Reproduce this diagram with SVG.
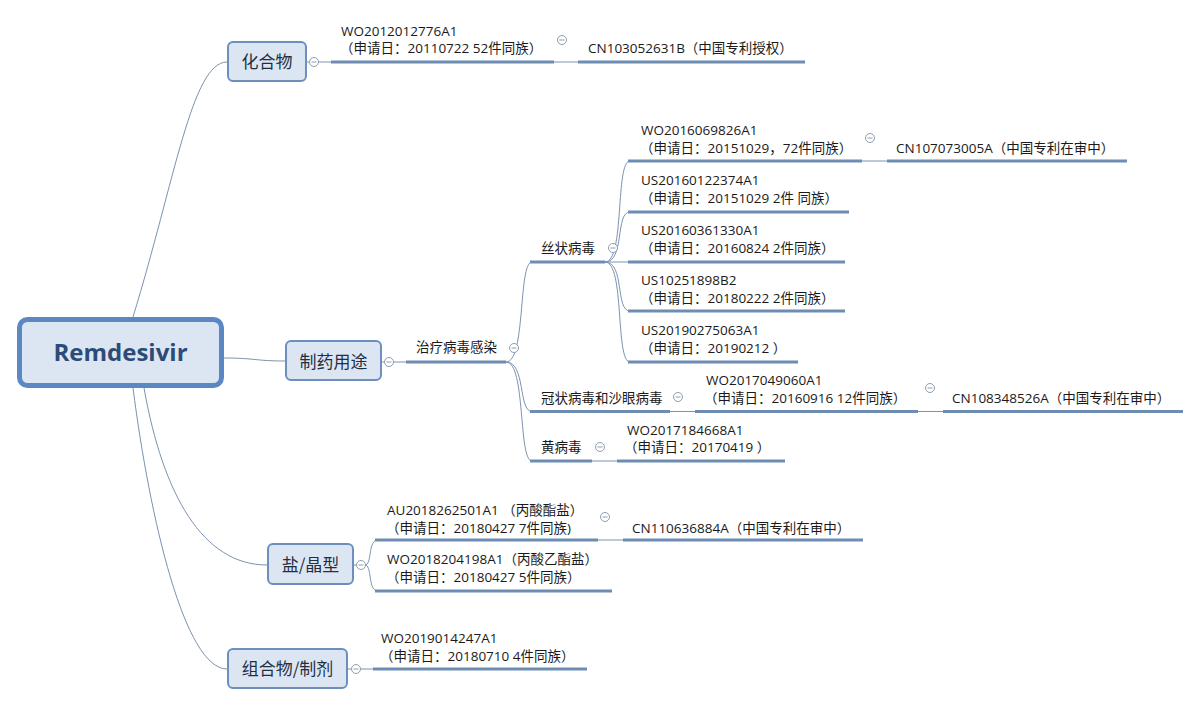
<svg xmlns="http://www.w3.org/2000/svg" width="1201" height="706" viewBox="0 0 1201 706">
<style>
.bg{fill:#ffffff}
.box{fill:#dce6f2;stroke:#6c8fbd;stroke-width:2}
.root{fill:#dce6f2;stroke:#5b87c2;stroke-width:5}
.btxt{font-family:"Noto Sans CJK SC","Noto Sans",sans-serif;font-size:17px;fill:#1f2f44;text-anchor:middle}
.rtxt{font-family:"Open Sans","Liberation Sans",sans-serif;font-weight:bold;font-size:24px;fill:#2d4b77;text-anchor:middle}
.t{font-family:"Open Sans","Noto Sans CJK SC",sans-serif;font-size:13.5px;fill:#1a1a1a}
.ul{stroke:#6f8db3;stroke-width:3;fill:none}
.cn{stroke:#7b93b0;stroke-width:1;fill:none}
.tg circle{fill:#ffffff;stroke:#8e9db0;stroke-width:1}
.tg path{stroke:#8e9db0;stroke-width:1}
</style>
<defs>
<g id="tog" class="tg"><circle cx="0" cy="0" r="4.5"/><path d="M-2.5,0H2.5"/></g>
</defs>
<rect class="bg" x="0" y="0" width="1201" height="706"/>

<g id="connectors">
<path class="cn" d="M133,317 C175,180 192,62 227,62"/>
<path class="cn" d="M224,358 C255,358 255,361 285,361"/>
<path class="cn" d="M144,388 C163,495 203,565 267,565"/>
<path class="cn" d="M133,388 C150,520 185,669 227,669"/>
<path class="cn" d="M307,62 H331"/>
<path class="cn" d="M554,62 H578"/>
<path class="cn" d="M382,362 H406"/>
<path class="cn" d="M506,362 C526,362 518,262 532,262"/>
<path class="cn" d="M506,362 C526,362 518,411.5 532,411.5"/>
<path class="cn" d="M506,362 C526,362 518,461 532,461"/>
<path class="cn" d="M605,262 C625,262 615,161 630,161"/>
<path class="cn" d="M605,262 C625,262 615,212 630,212"/>
<path class="cn" d="M605,262 H630"/>
<path class="cn" d="M605,262 C625,262 615,311 630,311"/>
<path class="cn" d="M605,262 C625,262 615,362 630,362"/>
<path class="cn" d="M862,161 H887"/>
<path class="cn" d="M670,411.5 H695"/>
<path class="cn" d="M918,411.5 H943"/>
<path class="cn" d="M592,461 H617"/>
<path class="cn" d="M354,565 H366"/>
<path class="cn" d="M366,565 C372,562 368,540 378,540"/>
<path class="cn" d="M366,565 C372,568 368,591 378,591"/>
<path class="cn" d="M598,540 H623"/>
<path class="cn" d="M348,669 H373"/>
</g>

<g id="root">
<rect class="root" x="19.5" y="319.5" width="202" height="66" rx="8"/>
<text class="rtxt" x="120.5" y="360.5">Remdesivir</text>
</g>

<g id="n-compound">
<rect class="box" x="228" y="42" width="78" height="39" rx="5"/>
<text class="btxt" x="267" y="67.5">化合物</text>
<use href="#tog" x="314" y="62"/>
</g>
<g id="n-wo2012012776">
<path class="ul" d="M331,62 H554"/>
<text class="t" x="341" y="35.5">WO2012012776A1</text>
<text class="t" x="340" y="52.5">（申请日：20110722 52件同族）</text>
<use href="#tog" x="562" y="40"/>
</g>
<g id="n-cn103052631b">
<path class="ul" d="M578,62 H805"/>
<text class="t" x="588" y="52.5">CN103052631B（中国专利授权）</text>
</g>

<g id="n-pharma">
<rect class="box" x="286" y="341" width="95" height="39" rx="5"/>
<text class="btxt" x="333.5" y="367.5">制药用途</text>
<use href="#tog" x="389" y="362"/>
</g>
<g id="n-antiviral">
<path class="ul" d="M406,362 H506"/>
<text class="t" x="416" y="351.5">治疗病毒感染</text>
<use href="#tog" x="514" y="348"/>
</g>
<g id="n-filovirus">
<path class="ul" d="M530,262 H605"/>
<text class="t" x="541" y="252.5">丝状病毒</text>
<use href="#tog" x="613" y="248"/>
</g>
<g id="n-wo2016069826">
<path class="ul" d="M628,161 H862"/>
<text class="t" x="641" y="134.5">WO2016069826A1</text>
<text class="t" x="640" y="152.5">（申请日：20151029，72件同族）</text>
<use href="#tog" x="870" y="138"/>
</g>
<g id="n-cn107073005a">
<path class="ul" d="M887,161 H1127"/>
<text class="t" x="896" y="152.5">CN107073005A（中国专利在审中）</text>
</g>
<g id="n-us20160122374">
<path class="ul" d="M628,212 H849"/>
<text class="t" x="641" y="184.5">US20160122374A1</text>
<text class="t" x="640" y="202.5">（申请日：20151029 2件 同族）</text>
</g>
<g id="n-us20160361330">
<path class="ul" d="M628,262 H845"/>
<text class="t" x="641" y="234.5">US20160361330A1</text>
<text class="t" x="640" y="252.5">（申请日：20160824 2件同族）</text>
</g>
<g id="n-us10251898">
<path class="ul" d="M628,311 H845"/>
<text class="t" x="641" y="284.5">US10251898B2</text>
<text class="t" x="640" y="302.5">（申请日：20180222 2件同族）</text>
</g>
<g id="n-us20190275063">
<path class="ul" d="M628,362 H798"/>
<text class="t" x="641" y="334.5">US20190275063A1</text>
<text class="t" x="640" y="352.5">（申请日：20190212 ）</text>
</g>
<g id="n-coronavirus">
<path class="ul" d="M530,411.5 H670"/>
<text class="t" x="541" y="402.5">冠状病毒和沙眼病毒</text>
<use href="#tog" x="678" y="397"/>
</g>
<g id="n-wo2017049060">
<path class="ul" d="M695,411.5 H918"/>
<text class="t" x="706" y="384.5">WO2017049060A1</text>
<text class="t" x="704" y="402.5">（申请日：20160916 12件同族）</text>
<use href="#tog" x="930" y="388"/>
</g>
<g id="n-cn108348526a">
<path class="ul" d="M943,411.5 H1183"/>
<text class="t" x="952" y="402.5">CN108348526A（中国专利在审中）</text>
</g>
<g id="n-flavivirus">
<path class="ul" d="M530,461 H592"/>
<text class="t" x="541" y="451.5">黄病毒</text>
<use href="#tog" x="600" y="447"/>
</g>
<g id="n-wo2017184668">
<path class="ul" d="M617,461 H785"/>
<text class="t" x="627" y="434.5">WO2017184668A1</text>
<text class="t" x="624" y="451.5">（申请日：20170419 ）</text>
</g>

<g id="n-salt">
<rect class="box" x="268" y="544" width="85" height="40" rx="5"/>
<text class="btxt" x="310.5" y="570.5">盐/晶型</text>
<use href="#tog" x="361" y="565"/>
</g>
<g id="n-au2018262501">
<path class="ul" d="M375,540 H598"/>
<text class="t" x="387" y="514.5">AU2018262501A1 （丙酸酯盐）</text>
<text class="t" x="386" y="532.5">（申请日：20180427 7件同族)</text>
<use href="#tog" x="605" y="517"/>
</g>
<g id="n-cn110636884a">
<path class="ul" d="M623,540 H863"/>
<text class="t" x="632" y="532.5">CN110636884A（中国专利在审中）</text>
</g>
<g id="n-wo2018204198">
<path class="ul" d="M375,591 H612"/>
<text class="t" x="387" y="563.5">WO2018204198A1（丙酸乙酯盐）</text>
<text class="t" x="386" y="581.5">（申请日：20180427 5件同族）</text>
</g>

<g id="n-formulation">
<rect class="box" x="228" y="649" width="119" height="39" rx="5"/>
<text class="btxt" x="287.5" y="675">组合物/制剂</text>
<use href="#tog" x="356" y="669"/>
</g>
<g id="n-wo2019014247">
<path class="ul" d="M373,669 H587"/>
<text class="t" x="381" y="642.5">WO2019014247A1</text>
<text class="t" x="380" y="660.5">（申请日：20180710 4件同族）</text>
</g>
</svg>
